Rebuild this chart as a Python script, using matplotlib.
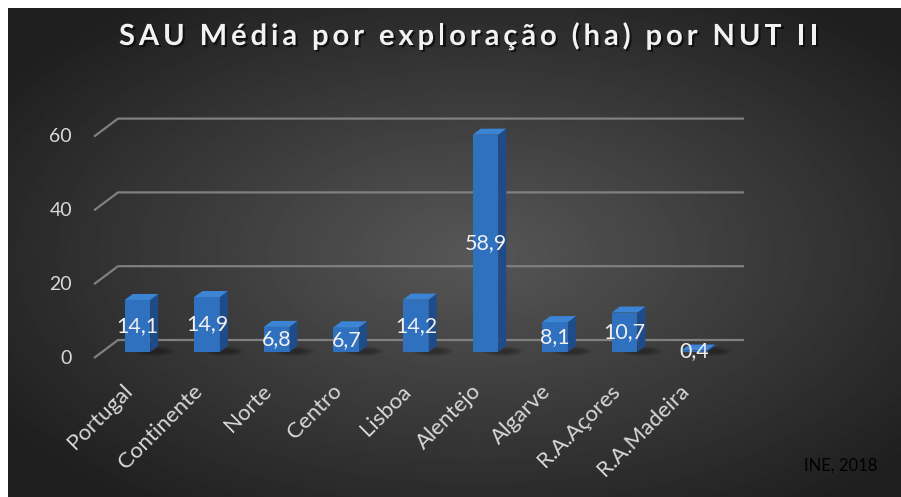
import numpy as np
import matplotlib
matplotlib.use('Agg')
from matplotlib import pyplot as plt
from matplotlib.patches import Polygon, Ellipse
from matplotlib.textpath import TextPath
from matplotlib.font_manager import FontProperties
import matplotlib.patheffects as pe

regions = ['Portugal', 'Continente', 'Norte', 'Centro', 'Lisboa',
           'Alentejo', 'Algarve', 'R.A.Açores', 'R.A.Madeira']
sau = [14.1, 14.9, 6.8, 6.7, 14.2, 58.9, 8.1, 10.7, 0.4]
yticks = [0, 20, 40, 60]
title = 'SAU Média por exploração (ha) por NUT II'
source = 'INE, 2018'

W, H = 901, 497
plt.rcParams['font.family'] = ['Lato', 'DejaVu Sans']
fig = plt.figure(figsize=(W / 100, H / 100), dpi=100, facecolor='white')

# dark radial background (excel style)
bg = fig.add_axes([0, 0, 1, 1])
yy, xx = np.mgrid[0:H, 0:W]
d = np.sqrt(((xx - 470) / 470.0) ** 2 + ((yy - 250) / 260.0) ** 2)
shade = (0x57 - 0x2e * np.clip(d, 0, 1.2)) / 255.
bg.imshow(shade, cmap='gray', vmin=0, vmax=1, extent=(8, W, H, 8),
          aspect='auto', interpolation='bilinear')
bg.set_xlim(0, W)
bg.set_ylim(H, 0)
bg.axis('off')

# main axes, pixel geometry of the 3d chart
x0, y0 = 137.5, 352      # first bar centre / bar base (px)
sx, sy = 69.6, 3.69      # px per category / px per unit
ax = fig.add_axes([(x0 - 0.5 * sx) / W, (H - y0) / H, 9 * sx / W, 60 * sy / H])
ax.set_xlim(-0.5, 8.5)
ax.set_ylim(0, 60)
ax.axis('off')

# gridlines: slanted side wall piece + back wall line
gx0, gx1, gend = (94 - x0) / sx, (118 - x0) / sx, (744 - x0) / sx
back, front = 12 / sy, -6 / sy
for v in yticks:
    ax.plot([gx0, gx1, gend], [v + front, v + back, v + back], color='#808080',
            lw=1.6, clip_on=False, zorder=1, solid_capstyle='butt')
    ax.text((72 - x0) / sx, v + front, str(v), ha='right', va='center',
            color='#d9d9d9', fontsize=14, clip_on=False)

# 3d bars
bw = 25.6 / sx
ddx, ddy = 8 / sx, 6 / sy
for i, v in enumerate(sau):
    # soft floor shadow
    for k in range(4):
        ax.add_patch(Ellipse((i + bw / 2 + 4 / sx, 0.8 / sy), (22 + 6 * k) / sx, (4 + 2 * k) / sy,
                             color='black', alpha=0.09, lw=0, zorder=2, clip_on=False))
ax.bar(range(len(sau)), sau, width=bw, color='#2f70bf', zorder=3, clip_on=False)
for i, v in enumerate(sau):
    left, right = i - bw / 2, i + bw / 2
    ax.add_patch(Polygon([(right, 0), (right + ddx, ddy), (right + ddx, v + ddy), (right, v)],
                         fc='#1f4c88', ec='none', zorder=3, clip_on=False))
    ax.add_patch(Polygon([(left, v), (left + ddx, v + ddy), (right + ddx, v + ddy), (right, v)],
                         fc='#3c84d6', ec='none', zorder=3, clip_on=False))
    ax.text(i, v / 2, f'{v:.1f}'.replace('.', ','), ha='center', va='center',
            color='#f0f0f0', fontsize=15.5, zorder=5, clip_on=False)
    ax.text(i - 15 / sx, -29 / sy, regions[i], rotation=45, rotation_mode='anchor',
            ha='right', va='top', color='#d9d9d9', fontsize=16, clip_on=False)

# title with letter spacing
fp = FontProperties(family='Lato', weight='bold', size=21)
ref = TextPath((0, 0), 'I', prop=fp).get_extents().x1


def adv(s):
    if not s:
        return 0.0
    return (TextPath((0, 0), s + 'I', prop=fp).get_extents().x1 - ref) * 100 / 72


tx0, tx1, tbase = 119, 818, 45
sp = (tx1 - tx0 - adv(title)) / (len(title) - 1)
shadow = [pe.withSimplePatchShadow(offset=(1.5, -1.5), shadow_rgbFace='black', alpha=0.6)]
for k, ch in enumerate(title):
    if ch == ' ':
        continue
    fig.text((tx0 + adv(title[:k]) + k * sp) / W, 1 - tbase / H, ch, ha='left',
             va='baseline', fontproperties=fp, color='#f2f2f2', path_effects=shadow)

fig.text(877 / W, 1 - 466 / H, source, ha='right', va='center', fontsize=12, color='black')

fig.savefig('out.png', dpi=100, facecolor='white')
